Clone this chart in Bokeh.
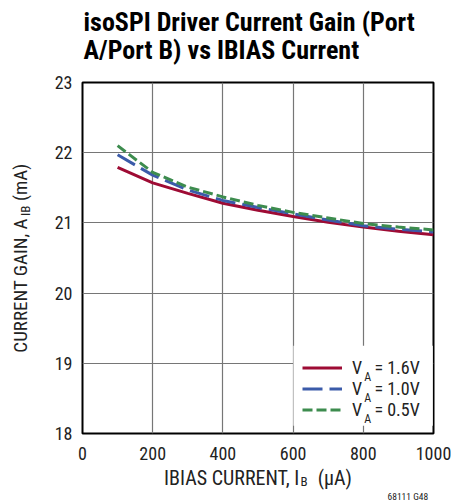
import math
from bokeh.plotting import figure
from bokeh.models import Legend, LegendItem, Label, FixedTicker, Range1d, BoxAnnotation
from bokeh.embed import file_html
from bokeh.resources import INLINE

# ---- data ----
ibias_ua = [100, 200, 300, 400, 500, 600, 700, 800, 900, 1000]
gain_va16 = [21.79, 21.57, 21.42, 21.28, 21.18, 21.09, 21.01, 20.94, 20.88, 20.83]
gain_va10 = [21.97, 21.68, 21.47, 21.32, 21.22, 21.13, 21.04, 20.96, 20.91, 20.87]
gain_va05 = [22.10, 21.72, 21.51, 21.37, 21.25, 21.15, 21.07, 20.99, 20.94, 20.90]
x_ticks = [0, 200, 400, 600, 800, 1000]
y_ticks = [18, 19, 20, 21, 22, 23]
series_labels = ["1.6V", "1.0V", "0.5V"]

FONT = "'Roboto Condensed', 'DejaVu Sans Condensed', sans-serif"
RED = "#9e0b34"
BLUE = "#3b5ba9"
GREEN = "#3d8c4e"
TXT = "#222222"
NB = "\u00a0"

p = figure(width=469, height=502, output_backend="svg", toolbar_location=None,
           x_range=Range1d(0, 1000), y_range=Range1d(18, 23),
           min_border_left=82, min_border_right=36, min_border_top=82,
           min_border_bottom=69)
p.title = None
p.outline_line_color = "black"
p.outline_line_width = 2
p.background_fill_color = "white"
p.border_fill_color = "white"

for ax, ticks in ((p.xaxis[0], x_ticks), (p.yaxis[0], y_ticks)):
    ax.ticker = FixedTicker(ticks=ticks)
    ax.axis_line_color = None
    ax.major_tick_line_color = None
    ax.minor_tick_line_color = None
    ax.major_tick_out = 0
    ax.major_tick_in = 0
    ax.minor_tick_out = 0
    ax.minor_tick_in = 0
    ax.major_label_text_font = FONT
    ax.major_label_text_font_size = "18px"
    ax.major_label_text_color = TXT
    ax.axis_label_text_font = FONT
    ax.axis_label_text_font_style = "normal"
    ax.axis_label_text_color = TXT
p.xaxis.major_label_standoff = 13
p.yaxis.major_label_standoff = 10
p.xaxis.axis_label = "IBIAS CURRENT, I" + NB * 4 + "(µA)"
p.xaxis.axis_label_text_font_size = "20px"
p.xaxis.axis_label_standoff = 3
p.yaxis.axis_label = "CURRENT GAIN, A" + NB * 4 + "(mA)"
p.yaxis.axis_label_text_font_size = "19px"
p.yaxis.axis_label_standoff = 20

p.xgrid.ticker = FixedTicker(ticks=x_ticks)
p.ygrid.ticker = FixedTicker(ticks=y_ticks)
p.grid.grid_line_color = "#767676"
p.grid.grid_line_width = 1.2

# white patch behind the legend that hides the grid lines (drawn under the curves)
p.add_layout(BoxAnnotation(left=601, right=998, bottom=18.11, top=19.25,
                           fill_color="white", fill_alpha=1.0, line_color=None,
                           level="underlay"), "center")

r1 = p.line(ibias_ua, gain_va16, line_color=RED, line_width=3)
r2 = p.line(ibias_ua, gain_va10, line_color=BLUE, line_width=3, line_dash="20 7")
r3 = p.line(ibias_ua, gain_va05, line_color=GREEN, line_width=3, line_dash="10 4")

legend = Legend(items=[LegendItem(label="V" + NB * 3 + "= " + s, renderers=[r])
                       for s, r in zip(series_labels, (r1, r2, r3))],
                location=(211, 4), glyph_width=40, glyph_height=21,
                label_height=21, spacing=0, padding=9, margin=0,
                label_standoff=10, border_line_alpha=0,
                background_fill_alpha=0.0,
                label_text_font=FONT, label_text_font_size="18px",
                label_text_color=TXT)
p.add_layout(legend, "center")

# legend subscripts
for yy in (18.81, 18.51, 18.20):
    p.add_layout(Label(x=803, y=yy, text="A", text_font=FONT, text_font_size="12px",
                       text_color=TXT, text_baseline="alphabetic"), "center")

def side_label(side, text, x, y, size, angle=0.0, bold=False):
    # placed in a side panel so it is not clipped; positioned in data units
    p.add_layout(Label(x=x, y=y, text=text, text_font=FONT, text_font_size=size,
                       angle=angle, text_font_style="bold" if bold else "normal",
                       text_color="black" if bold else TXT,
                       text_align="left", text_baseline="alphabetic"), side)

# title
side_label("above", "isoSPI Driver Current Gain (Port", 3, 23.86, "26px", bold=True)
side_label("above", "A/Port B) vs IBIAS Current", 3, 23.46, "26px", bold=True)
# figure code
side_label("above", "68111 G48", 869, 17.10, "9.5px")
# x-axis subscript
side_label("right", "B", 621, 17.31, "13px")
# y-axis subscript
side_label("right", "IB", -163, 21.10, "13px", angle=math.pi / 2)

open("out.html", "w").write(file_html(p, INLINE))
